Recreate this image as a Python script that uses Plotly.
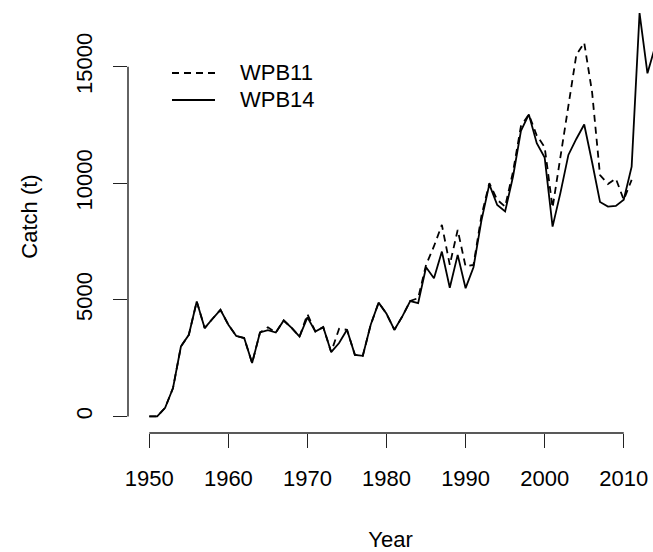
import plotly.graph_objects as go

years14 = list(range(1950, 2015))
wpb14 = [0, 0, 370, 1220, 3000, 3500, 4930, 3790, 4190, 4570,
         3930, 3450, 3360, 2290, 3600, 3700, 3600, 4115, 3800, 3420,
         4250, 3640, 3830, 2760, 3150, 3715, 2640, 2600, 3930, 4880,
         4400, 3715, 4290, 4950, 4860, 6400, 5930, 7070, 5520, 6930,
         5500, 6400, 8400, 9950, 9070, 8790, 10290, 12250, 12950, 11715,
         11100, 8140, 9600, 11215, 11900, 12520, 10900, 9200, 9000, 9030,
         9290, 10715, 17300, 14715, 15900]

years11 = list(range(1950, 2012))
wpb11 = [0, 0, 370, 1220, 3000, 3500, 4930, 3790, 4190, 4570,
         3930, 3450, 3360, 2290, 3600, 3820, 3600, 4115, 3800, 3420,
         4380, 3640, 3830, 2760, 3760, 3715, 2640, 2600, 3930, 4880,
         4400, 3715, 4290, 4950, 5075, 6500, 7300, 8215, 6500, 8000,
         6430, 6500, 8600, 10000, 9290, 9000, 10500, 12450, 12950, 12050,
         11550, 8950, 11140, 13350, 15500, 16030, 13900, 10350, 9970, 10200,
         9290, 10145]

x_ticks = [1950, 1960, 1970, 1980, 1990, 2000, 2010]
y_ticks = [0, 5000, 10000, 15000]
series_names = ["WPB11", "WPB14"]

FONT = "Liberation Sans, Arial, Helvetica, sans-serif"
FS = 22
INK = "#000000"

fig = go.Figure()
fig.add_trace(go.Scatter(x=years11, y=wpb11, mode="lines", name=series_names[0],
                         line=dict(color=INK, width=1.8, dash="7px,5px"), showlegend=False))
fig.add_trace(go.Scatter(x=years14, y=wpb14, mode="lines", name=series_names[1],
                         line=dict(color=INK, width=1.8), showlegend=False))

# R-style axis lines spanning first..last tick
fig.add_shape(type="line", xref="x", yref="paper", x0=min(x_ticks), x1=max(x_ticks), y0=0, y1=0,
              line=dict(color="#222", width=1.4))
fig.add_shape(type="line", xref="paper", yref="y", x0=0, x1=0, y0=min(y_ticks), y1=max(y_ticks),
              line=dict(color="#222", width=1.4))

# manual legend (R style, no box)
PH = 433.0
leg_rows = [(1 - 73 / PH, "7px,5px"), (1 - 100 / PH, "solid")]
for (yy, dash), name in zip(leg_rows, series_names):
    fig.add_shape(type="line", xref="paper", yref="paper",
                  x0=(172 - 128) / 525, x1=(215 - 128) / 525, y0=yy, y1=yy,
                  line=dict(color=INK, width=1.8, dash=dash))
    fig.add_annotation(text=name, xref="paper", yref="paper", x=(238 - 128) / 525, y=yy,
                       xanchor="left", yanchor="middle", showarrow=False,
                       font=dict(family=FONT, size=FS, color=INK))

fig.update_layout(
    width=653, height=552,
    margin=dict(l=128, r=0, t=0, b=119, autoexpand=False),
    paper_bgcolor="white", plot_bgcolor="white",
    font=dict(family=FONT, size=FS, color=INK),
    xaxis=dict(range=[1947.306, 2013.70], tickvals=x_ticks, ticktext=[str(v) for v in x_ticks],
               ticks="outside", ticklen=14, tickwidth=1.4, tickcolor="#222",
               showgrid=False, zeroline=False, showline=False, automargin=False,
               ticklabelstandoff=12,
               title=dict(text="Year", standoff=42, font=dict(family=FONT, size=FS))),
    yaxis=dict(range=[-711, 17860], tickvals=y_ticks, ticktext=[str(v) for v in y_ticks],
               ticks="outside", ticklen=14, tickwidth=1.4, tickcolor="#222", tickangle=-90,
               showgrid=False, zeroline=False, showline=False, automargin=False,
               ticklabelstandoff=12,
               title=dict(text="Catch (t)", standoff=28, font=dict(family=FONT, size=FS))),
)

fig.write_html("out.html")
